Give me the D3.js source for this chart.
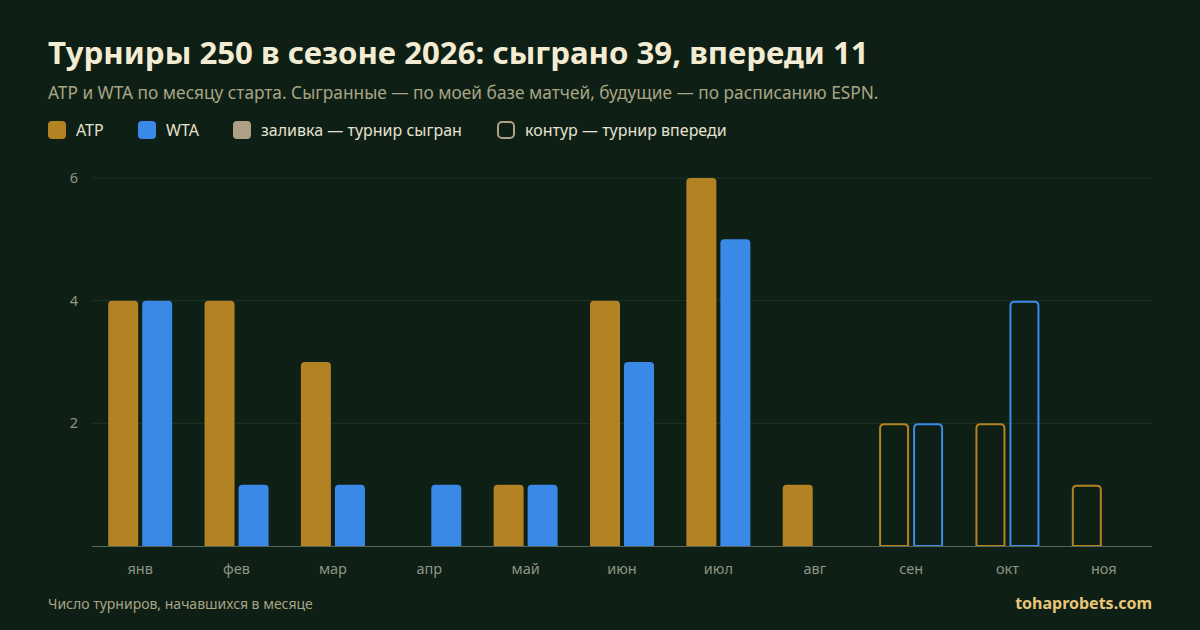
<!DOCTYPE html>
<html>
<head>
<meta charset="utf-8">
<script src="https://cdn.jsdelivr.net/npm/d3@7"></script>
<style>
  html, body { margin: 0; padding: 0; background: #0e1f16; }
  svg { display: block; font-family: "Noto Sans", sans-serif; }
</style>
</head>
<body>
<script>
/* DATA */
var months    = ['янв','фев','мар','апр','май','июн','июл','авг','сен','окт','ноя'];
var atp       = [4, 4, 3, 0, 1, 4, 6, 1, 2, 2, 1];
var wta       = [4, 1, 1, 1, 1, 3, 5, 0, 2, 4, 0];
var played    = [true, true, true, true, true, true, true, true, false, false, false];
var yTicks    = [2, 4, 6];

/* LAYOUT */
var W = 1200, H = 630,
    plotLeft = 92, plotRight = 1152,
    plotTop = 178, plotBottom = 546,
    barW = 30, gap = 4;

var c = {
  bg:     '#0e1f16',
  atp:    '#b38323',
  wta:    '#3b89e6',
  fill:   '#ada084',
  title:  '#f3ecd2',
  sub:    '#a8a584',
  grid:   '#1f3327',
  axis:   '#56675a',
  tick:   '#8e9582',
  brand:  '#e8c677',
  legend: '#e6e2cf'
};

var svg = d3.select('body').append('svg')
  .attr('width', W).attr('height', H);

svg.append('rect').attr('width', W).attr('height', H).attr('fill', c.bg);

/* TITLES */
svg.append('text')
  .attr('x', 48).attr('y', 64)
  .attr('fill', c.title).attr('font-size', 31.2).attr('font-weight', 700)
  .text('Турниры 250 в сезоне 2026: сыграно 39, впереди 11');

svg.append('text')
  .attr('x', 48).attr('y', 99)
  .attr('fill', c.sub).attr('font-size', 17.3)
  .text('ATP и WTA по месяцу старта. Сыгранные — по моей базе матчей, будущие — по расписанию ESPN.');

/* LEGEND */
var legendItems = [
  { label: 'ATP', x: 48, fill: c.atp, stroke: 'none' },
  { label: 'WTA', x: 138, fill: c.wta, stroke: 'none' },
  { label: 'заливка — турнир сыгран', x: 233, fill: c.fill, stroke: 'none' },
  { label: 'контур — турнир впереди', x: 497, fill: 'none', stroke: c.fill }
];
var lg = svg.append('g').selectAll('g').data(legendItems).enter().append('g')
  .attr('transform', function(d){ return 'translate(' + d.x + ',121)'; });
lg.append('rect')
  .attr('x', function(d){ return d.stroke === 'none' ? 0 : 1; })
  .attr('y', function(d){ return d.stroke === 'none' ? 0 : 1; })
  .attr('width', function(d){ return d.stroke === 'none' ? 18 : 16; })
  .attr('height', function(d){ return d.stroke === 'none' ? 18 : 16; })
  .attr('rx', 4)
  .attr('fill', function(d){ return d.fill; })
  .attr('stroke', function(d){ return d.stroke; })
  .attr('stroke-width', 2);
lg.append('text')
  .attr('x', 28).attr('y', 15)
  .attr('fill', c.legend).attr('font-size', 16)
  .text(function(d){ return d.label; });

/* SCALES */
var x = d3.scaleBand().domain(months).range([plotLeft, plotRight]).padding(0);
var y = d3.scaleLinear().domain([0, 6]).range([plotBottom, plotTop]);

/* GRID */
svg.append('g').selectAll('line').data(yTicks).enter().append('line')
  .attr('x1', plotLeft).attr('x2', plotRight)
  .attr('y1', function(d){ return y(d); }).attr('y2', function(d){ return y(d); })
  .attr('stroke', c.grid).attr('stroke-width', 1);

var yAxis = svg.append('g')
  .attr('transform', 'translate(' + (plotLeft - 14) + ',0)')
  .call(d3.axisLeft(y).tickValues(yTicks).tickFormat(d3.format('d')).tickSize(0).tickPadding(0));
yAxis.select('.domain').remove();
yAxis.selectAll('text').attr('fill', c.tick).attr('font-size', 14.5)
  .attr('font-family', '"Noto Sans", sans-serif');

/* BARS */
function topRounded(x0, y0, bw, bh, r) {
  if (bh <= 0) return '';
  r = Math.min(r, bh, bw / 2);
  return 'M' + x0 + ',' + (y0 + bh) +
    'V' + (y0 + r) +
    'Q' + x0 + ',' + y0 + ' ' + (x0 + r) + ',' + y0 +
    'H' + (x0 + bw - r) +
    'Q' + (x0 + bw) + ',' + y0 + ' ' + (x0 + bw) + ',' + (y0 + r) +
    'V' + (y0 + bh) + 'Z';
}

var bars = [];
months.forEach(function(m, i){
  bars.push({ month: m, v: atp[i], played: played[i], color: c.atp, off: -(barW + gap / 2) });
  bars.push({ month: m, v: wta[i], played: played[i], color: c.wta, off: gap / 2 });
});

svg.append('g').selectAll('path').data(bars.filter(function(d){ return d.v > 0; }))
  .enter().append('path')
  .attr('d', function(d){
    var cx = x(d.month) + x.bandwidth() / 2;
    var x0 = cx + d.off, y0 = y(d.v), bh = y(0) - y(d.v);
    if (d.played) return topRounded(x0, y0, barW, bh, 4);
    return topRounded(x0 + 1, y0 + 1, barW - 2, bh - 1, 4);
  })
  .attr('fill', function(d){ return d.played ? d.color : 'none'; })
  .attr('stroke', function(d){ return d.played ? 'none' : d.color; })
  .attr('stroke-width', 2);

/* X AXIS */
svg.append('line')
  .attr('x1', plotLeft).attr('x2', plotRight)
  .attr('y1', plotBottom + 0.5).attr('y2', plotBottom + 0.5)
  .attr('stroke', c.axis).attr('stroke-width', 1.2);

var xAxis = svg.append('g')
  .attr('transform', 'translate(0,' + plotBottom + ')')
  .call(d3.axisBottom(x).tickSize(0).tickPadding(18));
xAxis.select('.domain').remove();
xAxis.selectAll('text').attr('fill', c.tick).attr('font-size', 14.5)
  .attr('font-family', '"Noto Sans", sans-serif');

/* FOOTER */
svg.append('text')
  .attr('x', 48).attr('y', 609)
  .attr('fill', c.sub).attr('font-size', 14)
  .text('Число турниров, начавшихся в месяце');

svg.append('text')
  .attr('x', plotRight).attr('y', 609)
  .attr('text-anchor', 'end')
  .attr('fill', c.brand).attr('font-size', 16).attr('font-weight', 700)
  .text('tohaprobets.com');
</script>
</body>
</html>
